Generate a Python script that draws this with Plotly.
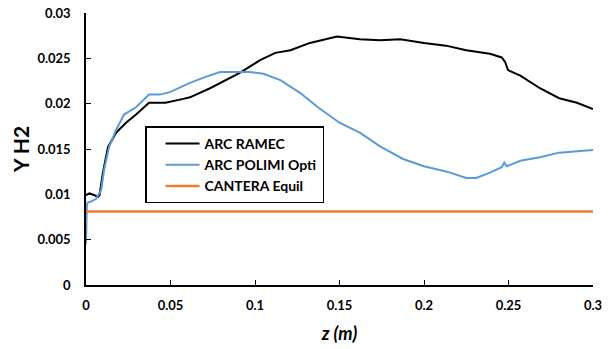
import plotly.graph_objects as go

z_ramec = [0, 0.002, 0.005, 0.007, 0.008, 0.010, 0.013, 0.0178, 0.0237, 0.0296, 0.0373, 0.047,
           0.057, 0.0615, 0.0734, 0.091, 0.103, 0.112, 0.121, 0.1325, 0.1485, 0.162, 0.174,
           0.186, 0.2, 0.213, 0.225, 0.239, 0.246, 0.248, 0.2497, 0.257, 0.2686, 0.28, 0.2905, 0.3]
y_ramec = [0.0099, 0.0101, 0.0099, 0.0097, 0.0099, 0.0124, 0.0152, 0.0168, 0.0179, 0.0188, 0.0201, 0.0201,
           0.0205, 0.0207, 0.0217, 0.0234, 0.0248, 0.0256, 0.0259, 0.0267, 0.0274, 0.0271, 0.0270,
           0.0271, 0.0267, 0.0264, 0.0259, 0.0255, 0.0251, 0.0246, 0.0237, 0.0231, 0.0217, 0.0206, 0.0201, 0.0194]

z_polimi = [0, 0.0005, 0.001, 0.003, 0.006, 0.009, 0.0107, 0.0136, 0.0178, 0.0225, 0.0296, 0.0373,
            0.0438, 0.05, 0.057, 0.0615, 0.07, 0.0793, 0.091, 0.097, 0.105, 0.115, 0.1266, 0.138,
            0.150, 0.162, 0.174, 0.1876, 0.2, 0.2136, 0.225, 0.231, 0.239, 0.246, 0.2475, 0.249,
            0.257, 0.2686, 0.28, 0.3]
y_polimi = [0.0045, 0.0088, 0.0091, 0.0092, 0.0095, 0.0105, 0.0127, 0.0152, 0.0171, 0.0188, 0.0196, 0.0210,
            0.0210, 0.0213, 0.0219, 0.0223, 0.0229, 0.0235, 0.0235, 0.0235, 0.0233, 0.0226, 0.0212, 0.0195,
            0.0179, 0.0168, 0.0153, 0.0139, 0.0131, 0.0125, 0.0118, 0.0118, 0.0124, 0.0130, 0.0135, 0.0131,
            0.0137, 0.0141, 0.0146, 0.0149]

z_cantera = [0, 0.3]
y_cantera = [0.0081, 0.0081]

names = ["ARC RAMEC", "ARC POLIMI Opti", "CANTERA Equil"]
colors = ["#000000", "#5B9BD5", "#ED7D31"]

fig = go.Figure()
fig.add_trace(go.Scatter(x=z_ramec, y=y_ramec, mode="lines", name=names[0],
                         line=dict(color=colors[0], width=2)))
fig.add_trace(go.Scatter(x=z_polimi, y=y_polimi, mode="lines", name=names[1],
                         line=dict(color=colors[1], width=2)))
fig.add_trace(go.Scatter(x=z_cantera, y=y_cantera, mode="lines", name=names[2],
                         line=dict(color=colors[2], width=2.5)))

font_family = "Lato, Carlito, Arial, sans-serif"
fig.update_layout(
    width=613, height=349,
    margin=dict(l=86, r=20, t=13, b=64, autoexpand=False),
    paper_bgcolor="white", plot_bgcolor="white",
    font=dict(family=font_family, size=13, color="#000000"),
    showlegend=True,
    legend=dict(x=0.1164, y=0.583, xanchor="left", yanchor="top",
                bordercolor="#000000", borderwidth=1.5, bgcolor="white",
                font=dict(family=font_family, size=14, color="#000000", weight="bold"),
                tracegroupgap=0, itemwidth=34, indentation=14),
    xaxis=dict(range=[0, 0.3], dtick=0.05, tick0=0, showgrid=False, zeroline=False,
               showline=True, linecolor="#000000", linewidth=1.5, automargin=False,
               ticks="inside", ticklen=5, tickcolor="#000000", tickwidth=1.2,
               ticklabelstandoff=8,
               tickfont=dict(family=font_family, size=13, weight="bold"),
               title=dict(text="<b><i>z (m)</i></b>", font=dict(family=font_family, size=18))),
    yaxis=dict(range=[0, 0.03], dtick=0.005, tick0=0, showgrid=False, zeroline=False,
               showline=True, linecolor="#000000", linewidth=1.5, automargin=False,
               ticks="inside", ticklen=5, tickcolor="#000000", tickwidth=1.2,
               ticklabelstandoff=11,
               tickfont=dict(family=font_family, size=13, weight="bold"),
               title=dict(text="<b>Y H2</b>", font=dict(family=font_family, size=21), standoff=2)),
)

fig.write_html("out.html", config={"displayModeBar": False},
               post_script="document.body.style.margin='0px';document.body.style.padding='0px';")
